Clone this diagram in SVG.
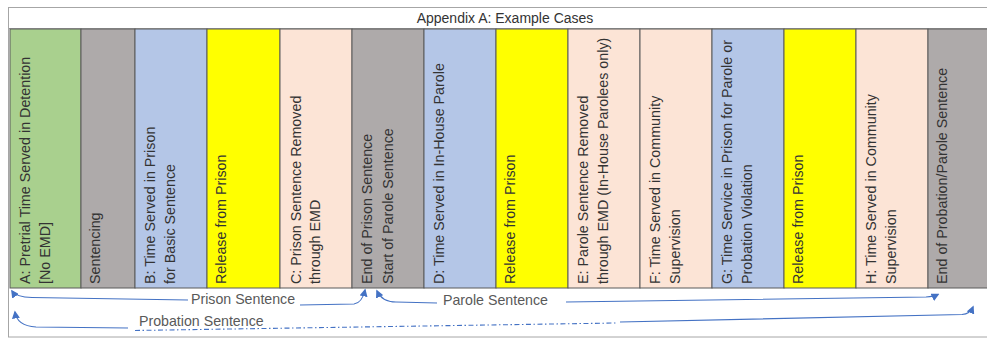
<svg xmlns="http://www.w3.org/2000/svg" width="987" height="339" viewBox="0 0 987 339">
<style>
.col{stroke:#5a5a5a;stroke-width:1}
.g{fill:#A9D08E}.k{fill:#AEAAAA}.b{fill:#B4C6E7}.y{fill:#FFFF00}.p{fill:#FCE4D6}
.t{font-family:"Liberation Sans",Arial,sans-serif;font-size:14.3px;fill:#333}
.lbl{font-family:"Liberation Sans",Arial,sans-serif;font-size:14.2px;fill:#595959}
.ar{fill:none;stroke:#4472C4;stroke-width:1.1}
.dd{stroke-dasharray:5 2.5 1.5 2.5}
</style>
<defs>
<marker id="ah" viewBox="0 0 10 10" refX="8" refY="5" markerWidth="8" markerHeight="8" markerUnits="userSpaceOnUse" orient="auto-start-reverse">
<path d="M0 0 L10 5 L0 10 Z" fill="#4472C4"/>
</marker>
</defs>
<rect x="0" y="0" width="987" height="339" fill="#fff"/>
<rect x="8.5" y="7.5" width="990" height="329.5" fill="#fff" stroke="#a6a6a6" stroke-width="1"/>
<g id="title">
<line x1="8" y1="28.5" x2="987" y2="28.5" stroke="#a6a6a6"/>
<text x="505" y="23" text-anchor="middle" class="t" style="font-size:14px">Appendix A: Example Cases</text>
</g>
<g id="colA"><rect class="col g" x="10" y="29" width="71" height="259"/>
<text class="t" transform="translate(30,284) rotate(-90)">A: Pretrial Time Served in Detention</text>
<text class="t" transform="translate(50,284) rotate(-90)">[No EMD]</text></g>
<g id="colSent"><rect class="col k" x="81" y="29" width="54" height="259"/>
<text class="t" transform="translate(100,284) rotate(-90)">Sentencing</text></g>
<g id="colB"><rect class="col b" x="135" y="29" width="72" height="259"/>
<text class="t" transform="translate(155,284) rotate(-90)">B: Time Served in Prison</text>
<text class="t" transform="translate(175,284) rotate(-90)">for Basic Sentence</text></g>
<g id="colRel1"><rect class="col y" x="207" y="29" width="73" height="259"/>
<text class="t" transform="translate(226,284) rotate(-90)">Release from Prison</text></g>
<g id="colC"><rect class="col p" x="280" y="29" width="72" height="259"/>
<text class="t" transform="translate(301,284) rotate(-90)">C: Prison Sentence Removed</text>
<text class="t" transform="translate(320,284) rotate(-90)">through EMD</text></g>
<g id="colEndPrison"><rect class="col k" x="352" y="29" width="72" height="259"/>
<text class="t" transform="translate(372,284) rotate(-90)">End of Prison Sentence</text>
<text class="t" transform="translate(393,284) rotate(-90)">Start of Parole Sentence</text></g>
<g id="colD"><rect class="col b" x="424" y="29" width="72" height="259"/>
<text class="t" transform="translate(444,284) rotate(-90)">D: Time Served in In-House Parole</text></g>
<g id="colRel2"><rect class="col y" x="496" y="29" width="72" height="259"/>
<text class="t" transform="translate(515,284) rotate(-90)">Release from Prison</text></g>
<g id="colE"><rect class="col p" x="568" y="29" width="72" height="259"/>
<text class="t" transform="translate(588,284) rotate(-90)">E: Parole Sentence Removed</text>
<text class="t" transform="translate(608,284) rotate(-90)">through EMD (In-House Parolees only)</text></g>
<g id="colF"><rect class="col p" x="640" y="29" width="72" height="259"/>
<text class="t" transform="translate(660,284) rotate(-90)">F: Time Served in Community</text>
<text class="t" transform="translate(680,284) rotate(-90)">Supervision</text></g>
<g id="colG"><rect class="col b" x="712" y="29" width="72" height="259"/>
<text class="t" transform="translate(732,284) rotate(-90)">G: Time Service in Prison for Parole or</text>
<text class="t" transform="translate(752,284) rotate(-90)">Probation Violation</text></g>
<g id="colRel3"><rect class="col y" x="784" y="29" width="72" height="259"/>
<text class="t" transform="translate(803,284) rotate(-90)">Release from Prison</text></g>
<g id="colH"><rect class="col p" x="856" y="29" width="72" height="259"/>
<text class="t" transform="translate(876,284) rotate(-90)">H: Time Served in Community</text>
<text class="t" transform="translate(896,284) rotate(-90)">Supervision</text></g>
<g id="colEnd"><rect class="col k" x="928" y="29" width="70" height="259"/>
<text class="t" transform="translate(947,284) rotate(-90)">End of Probation/Parole Sentence</text></g>
<g id="connectors">
<path class="ar" marker-start="url(#ah)" d="M12 291 Q16 297 32 297.5 L188 300"/>
<path class="ar" marker-end="url(#ah)" d="M300 305 L354 304 Q362 303 365 290"/>
<path class="ar" marker-start="url(#ah)" d="M377 291 Q382 302 396 302 L437 303"/>
<path class="ar" marker-end="url(#ah)" d="M566 302 L926 297 Q934 296.5 938 294.5"/>
<path class="ar" marker-start="url(#ah)" d="M15 312 Q17 326 36 327 L128 328"/>
<path class="ar dd" d="M135 330.5 L616 323"/>
<path class="ar" marker-end="url(#ah)" d="M620 322 L962 314.5 Q970 314 973 307"/>
</g>
<g id="labels">
<text class="lbl" x="191" y="304">Prison Sentence</text>
<text class="lbl" x="443" y="305">Parole Sentence</text>
<text class="lbl" x="139" y="326">Probation Sentence</text>
</g>
</svg>
